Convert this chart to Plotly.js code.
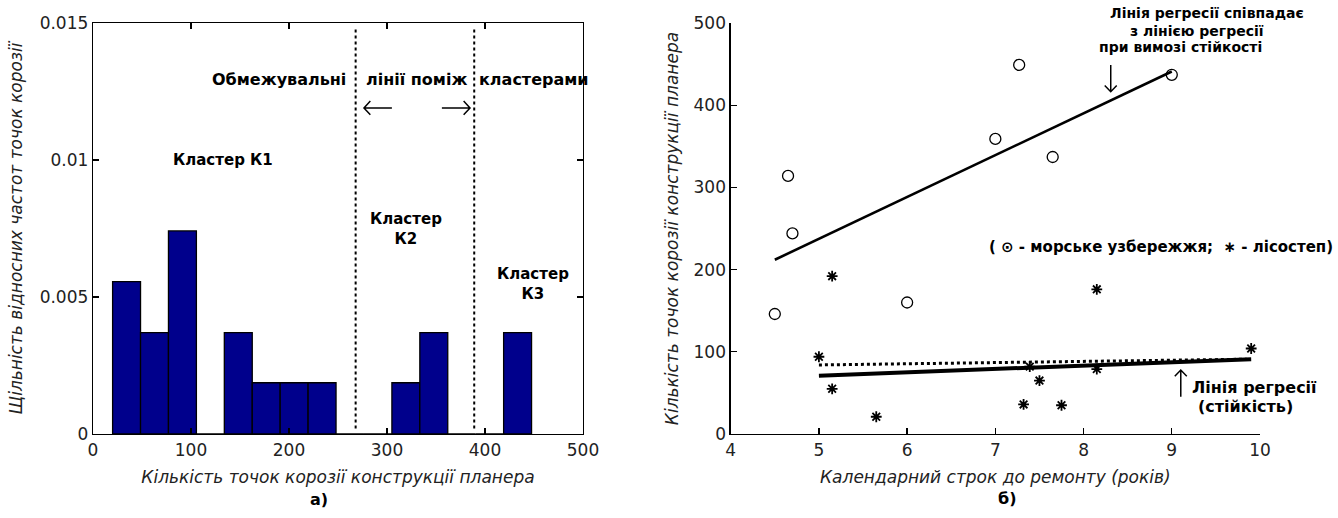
<!DOCTYPE html>
<html>
<head>
<meta charset="utf-8">
<script src="https://cdn.plot.ly/plotly-3.0.1.min.js"></script>
<style>html,body{margin:0;padding:0;background:#fff;}#chart{width:1338px;height:518px;}</style>
</head>
<body>
<div id="chart"></div>
<script>
// ---- Panel a) : histogram of corrosion point counts ----
const binLeft = [20, 48.5, 77, 105.5, 134, 162.5, 191, 219.5, 248, 276.5, 305, 333.5, 362, 390.5, 419];
const binWidth = 28.5;
const density = [0.00556, 0.00370, 0.00741, 0, 0.00370, 0.00187, 0.00187, 0.00187, 0, 0, 0.00187, 0.00370, 0, 0, 0.00370];
const boundaries = [268, 389];
const xTicksA = [0, 100, 200, 300, 400, 500];
const yTicksA = [0, 0.005, 0.01, 0.015];
const yTickTextA = ['0', '0.005', '0.01', '0.015'];

// ---- Panel б) : corrosion vs. calendar term ----
const seaX = [4.5, 4.65, 4.7, 6.0, 7.0, 7.27, 7.65, 9.0];
const seaY = [146, 314, 244, 160, 359, 449, 337, 437];
const steppeX = [5.0, 5.15, 5.15, 5.65, 7.32, 7.39, 7.5, 7.75, 8.15, 8.15, 9.9];
const steppeY = [94, 192, 55, 21, 36, 82, 65, 35, 176, 79, 104];
const regSeaX = [4.5, 9.0];
const regSeaY = [212, 441];
const regSteppeX = [5.0, 9.9];
const regSteppeY = [71, 91];
const regStableX = [5.0, 9.85];
const regStableY = [84, 91];

const binCenter = binLeft.map(v => v + binWidth / 2);

const FONT = 'DejaVu Sans, Verdana, sans-serif';
const tickFont = {family: FONT, size: 17, color: '#222'};
const titleFont = {family: FONT, size: 17, color: '#222', style: 'italic'};

const traces = [
  {type: 'bar', x: binCenter, y: density, width: binWidth, xaxis: 'x', yaxis: 'y',
   marker: {color: '#00008C', line: {color: '#000', width: 1.3}}, hoverinfo: 'x+y'},
  {type: 'scatter', mode: 'lines', x: [boundaries[0], boundaries[0]], y: [0.0002, 0.0148], xaxis: 'x', yaxis: 'y',
   line: {color: '#000', width: 2, dash: 'dot'}},
  {type: 'scatter', mode: 'lines', x: [boundaries[1], boundaries[1]], y: [0.0002, 0.0148], xaxis: 'x', yaxis: 'y',
   line: {color: '#000', width: 2, dash: 'dot'}},
  {type: 'scatter', mode: 'lines', x: regSeaX, y: regSeaY, xaxis: 'x2', yaxis: 'y2',
   line: {color: '#000', width: 2.6}},
  {type: 'scatter', mode: 'lines', x: regStableX, y: regStableY, xaxis: 'x2', yaxis: 'y2',
   line: {color: '#000', width: 3, dash: 'dot'}},
  {type: 'scatter', mode: 'lines', x: regSteppeX, y: regSteppeY, xaxis: 'x2', yaxis: 'y2',
   line: {color: '#000', width: 4}},
  {type: 'scatter', mode: 'markers', x: seaX, y: seaY, xaxis: 'x2', yaxis: 'y2',
   marker: {symbol: 'circle-open', size: 11, color: '#000', line: {color: '#000', width: 1.3}}},
  {type: 'scatter', mode: 'markers', x: steppeX, y: steppeY, xaxis: 'x2', yaxis: 'y2',
   marker: {symbol: 'asterisk-open', size: 9, color: '#000', line: {color: '#000', width: 1.8}}}
];

const axBase = {showline: true, linecolor: '#000', linewidth: 1.3, ticks: 'inside', ticklen: 6,
  tickcolor: '#000', tickwidth: 1.3, showgrid: false, zeroline: false, tickfont: tickFont, fixedrange: true};

const B = (t) => '<b>' + t + '</b>';
function ann(x, y, text, size, xref, yref, extra) {
  return Object.assign({x: x, y: y, xref: xref || 'x', yref: yref || 'y', text: B(text), showarrow: false,
    font: {family: FONT, size: size, color: '#000'}, xanchor: 'center', yanchor: 'middle'}, extra || {});
}
const px = (v) => v / 1338;
const py = (v) => 1 - v / 518;

const annotations = [
  ann(190, 0.01292, 'Обмежувальні', 16),
  ann(330, 0.01292, 'лінії поміж', 16),
  ann(450, 0.01292, 'кластерами', 16),
  ann(132.7, 0.0100, 'Кластер К1', 15),
  ann(319.4, 0.00747, 'Кластер<br>К2', 15, 'x', 'y', {align: 'center'}),
  ann(449, 0.00547, 'Кластер<br>К3', 15, 'x', 'y', {align: 'center'}),
  ann(px(1207), py(13), 'Лінія регресії співпадає', 14, 'paper', 'paper'),
  ann(px(1197), py(30.5), 'з лінією регресії', 14, 'paper', 'paper'),
  ann(px(1180), py(47.5), 'при вимозі стійкості', 14, 'paper', 'paper'),
  ann(8.88, 228, '( ⊙ - морське узбережжя;  ∗ - лісостеп)', 15, 'x2', 'y2'),
  ann(9.94, 56.5, 'Лінія регресії', 16, 'x2', 'y2'),
  ann(9.83, 33.2, '(стійкість)', 16, 'x2', 'y2'),
  ann(px(319), py(499), 'а)', 16, 'paper', 'paper'),
  ann(px(1006.7), py(498), 'б)', 16, 'paper', 'paper')
];

// arrows (decoration) drawn as shape paths
const shapes = [
  {type: 'path', xref: 'x', yref: 'y', path: 'M305,0.0119 L276.5,0.0119 M283,0.01215 L276.5,0.0119 L283,0.01165', line: {color: '#000', width: 1.5}},
  {type: 'path', xref: 'x', yref: 'y', path: 'M356,0.0119 L384.7,0.0119 M378.2,0.01215 L384.7,0.0119 L378.2,0.01165', line: {color: '#000', width: 1.5}},
  {type: 'path', xref: 'x2', yref: 'y2', path: 'M8.308,449 L8.308,416.4 M8.24,424 L8.308,416.4 L8.376,424', line: {color: '#000', width: 1.5}},
  {type: 'path', xref: 'x2', yref: 'y2', path: 'M9.102,45.4 L9.102,77.9 M9.034,70.3 L9.102,77.9 L9.17,70.3', line: {color: '#000', width: 1.5}}
];

const layout = {
  width: 1338, height: 518, margin: {l: 0, r: 0, t: 0, b: 0},
  paper_bgcolor: '#fff', plot_bgcolor: '#fff', showlegend: false, bargap: 0,
  xaxis: Object.assign({}, axBase, {domain: [93 / 1338, 583 / 1338], range: [0, 500], tickvals: xTicksA,
    mirror: 'ticks', anchor: 'y',
    title: {text: 'Кількість точок корозії конструкції планера', font: titleFont, standoff: 12}}),
  yaxis: Object.assign({}, axBase, {domain: [1 - 434 / 518, 1 - 23 / 518], range: [0, 0.015], tickvals: yTicksA,
    ticktext: yTickTextA, mirror: 'ticks', anchor: 'x',
    title: {text: 'Щільність відносних частот точок корозії', font: titleFont, standoff: 12}}),
  xaxis2: Object.assign({}, axBase, {domain: [730.7 / 1338, 1260 / 1338], range: [4, 10], dtick: 1, anchor: 'y2',
    title: {text: 'Календарний строк до ремонту (років)', font: titleFont, standoff: 12}}),
  yaxis2: Object.assign({}, axBase, {domain: [1 - 434 / 518, 1 - 23 / 518], range: [0, 500], dtick: 100, anchor: 'x2',
    title: {text: 'Кількість точок корозії конструкції планера', font: titleFont, standoff: 10}}),
  annotations: annotations,
  shapes: shapes
};

Plotly.newPlot('chart', traces, layout, {staticPlot: true, displayModeBar: false});
</script>
</body>
</html>
